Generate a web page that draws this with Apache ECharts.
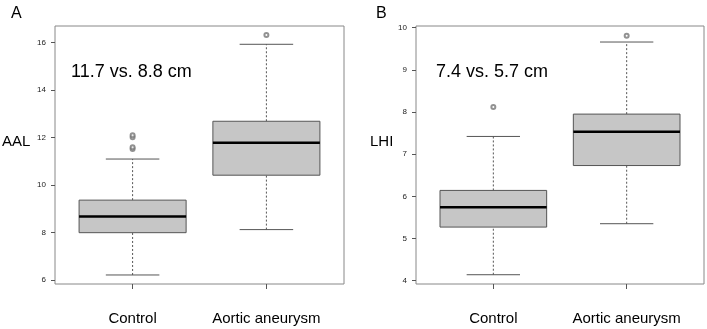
<!DOCTYPE html>
<html>
<head>
<meta charset="utf-8">
<script src="https://cdn.jsdelivr.net/npm/echarts@6/dist/echarts.min.js"></script>
<style>
  html, body { margin: 0; padding: 0; background: #fff; }
  #chart { width: 707px; height: 329px; }
</style>
</head>
<body>
<div id="chart"></div>
<script>
// groups on the x axis (positions 1 and 2)
const categories = ["Control", "Aortic aneurysm"];
const positions = [1, 2];

// [lower whisker, Q1, median, Q3, upper whisker]
const aalStats = [
    [6.22, 8.00, 8.68, 9.37, 11.10],
    [8.13, 10.42, 11.79, 12.69, 15.93]
];
const lhiStats = [
    [4.14, 5.27, 5.74, 6.14, 7.42],
    [5.35, 6.73, 7.53, 7.95, 9.66]
];
// outliers [position, value]
const aalOutliers = [[1, 12.02], [1, 12.10], [1, 11.52], [1, 11.60], [2, 16.32]];
const lhiOutliers = [[1, 8.12], [2, 9.81]];

// y tick labels
const aalTicks = [6, 8, 10, 12, 14, 16];
const lhiTicks = [4, 5, 6, 7, 8, 9, 10];

const font = "Liberation Sans, Arial, sans-serif";

function boxData(stats) {
    return stats.map((s, i) => [positions[i]].concat(s));
}

function renderBox(params, api) {
    const x = api.value(0);
    const lo = api.coord([x, api.value(1)]);
    const q1 = api.coord([x, api.value(2)]);
    const med = api.coord([x, api.value(3)]);
    const q3 = api.coord([x, api.value(4)]);
    const hi = api.coord([x, api.value(5)]);
    const half = api.size([0.8, 0])[0] / 2;
    const cap = half / 2;
    const cx = lo[0];
    const grey = "#555";
    return {
        type: "group",
        children: [
            { type: "line", shape: { x1: cx, y1: lo[1], x2: cx, y2: q1[1] },
              style: { stroke: grey, lineWidth: 1, lineDash: [2, 2] } },
            { type: "line", shape: { x1: cx, y1: q3[1], x2: cx, y2: hi[1] },
              style: { stroke: grey, lineWidth: 1, lineDash: [2, 2] } },
            { type: "line", shape: { x1: cx - cap, y1: lo[1], x2: cx + cap, y2: lo[1] },
              style: { stroke: grey, lineWidth: 1 } },
            { type: "line", shape: { x1: cx - cap, y1: hi[1], x2: cx + cap, y2: hi[1] },
              style: { stroke: grey, lineWidth: 1 } },
            { type: "rect", shape: { x: cx - half, y: q3[1], width: half * 2, height: q1[1] - q3[1] },
              style: { fill: "#c6c6c6", stroke: grey, lineWidth: 1 } },
            { type: "line", shape: { x1: cx - half, y1: med[1], x2: cx + half, y2: med[1] },
              style: { stroke: "#000", lineWidth: 2.5 } }
        ]
    };
}

function xAxis(idx) {
    return {
        type: "value", gridIndex: idx, min: 0.42, max: 2.58,
        axisLine: { show: false },
        splitLine: { show: false },
        axisTick: { show: true, length: 5, customValues: positions, lineStyle: { color: "#555" } },
        axisLabel: {
            customValues: positions, margin: 27, fontSize: 15, color: "#000", fontFamily: font,
            formatter: v => categories[positions.indexOf(v)] || ""
        }
    };
}

function yAxis(idx, min, max, ticks) {
    return {
        type: "value", gridIndex: idx, min: min, max: max,
        axisLine: { show: false },
        splitLine: { show: false },
        axisTick: { show: true, length: 4, customValues: ticks, lineStyle: { color: "#555" } },
        axisLabel: { customValues: ticks, margin: 9, fontSize: 8, color: "#222", fontFamily: font }
    };
}

const outlierStyle = { color: "#777", borderColor: "#777", borderWidth: 0.8 };

const chart = echarts.init(document.getElementById("chart"));
chart.setOption({
    animation: false,
    grid: [
        { left: 55, right: 363, top: 26, bottom: 45, show: true, borderColor: "#888", borderWidth: 1 },
        { left: 416, right: 3, top: 26, bottom: 45, show: true, borderColor: "#888", borderWidth: 1 }
    ],
    xAxis: [xAxis(0), xAxis(1)],
    yAxis: [yAxis(0, 5.84, 16.70, aalTicks), yAxis(1, 3.92, 10.04, lhiTicks)],
    series: [
        { type: "custom", xAxisIndex: 0, yAxisIndex: 0, renderItem: renderBox, data: boxData(aalStats) },
        { type: "custom", xAxisIndex: 1, yAxisIndex: 1, renderItem: renderBox, data: boxData(lhiStats) },
        { type: "scatter", xAxisIndex: 0, yAxisIndex: 0, symbol: "emptyCircle", symbolSize: 4,
          itemStyle: outlierStyle, data: aalOutliers, z: 5 },
        { type: "scatter", xAxisIndex: 1, yAxisIndex: 1, symbol: "emptyCircle", symbolSize: 4,
          itemStyle: outlierStyle, data: lhiOutliers, z: 5 }
    ],
    graphic: [
        { type: "text", left: 11, top: 6, style: { text: "A", fontSize: 16, fontFamily: font, fill: "#000" } },
        { type: "text", left: 376, top: 6, style: { text: "B", fontSize: 16, fontFamily: font, fill: "#000" } },
        { type: "text", left: 2, top: 134, style: { text: "AAL", fontSize: 15, fontFamily: font, fill: "#000" } },
        { type: "text", left: 370, top: 134, style: { text: "LHI", fontSize: 15, fontFamily: font, fill: "#000" } },
        { type: "text", left: 71, top: 63, style: { text: "11.7 vs. 8.8 cm", fontSize: 18, fontFamily: font, fill: "#000" } },
        { type: "text", left: 436, top: 63, style: { text: "7.4 vs. 5.7 cm", fontSize: 18, fontFamily: font, fill: "#000" } }
    ]
});
</script>
</body>
</html>
